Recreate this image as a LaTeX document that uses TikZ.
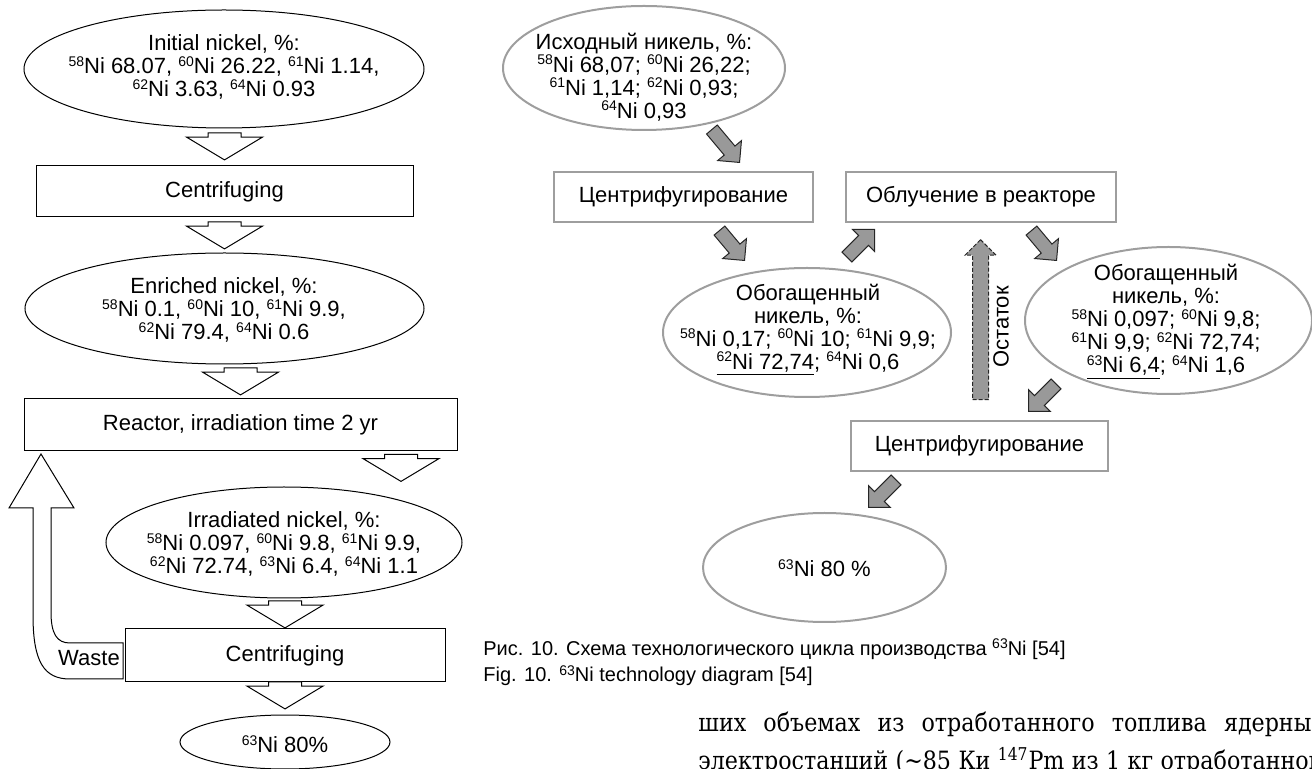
\documentclass[tikz,border=0pt]{standalone}
\usepackage{fontspec}
\setmainfont{Liberation Sans}
\newfontfamily\bodyfont[FakeStretch=0.88]{DejaVu Serif}
\usetikzlibrary{shapes.geometric,shapes.arrows}
\newcommand{\isoNi}[1]{\raisebox{0.65ex}{\fontsize{7}{7}\selectfont #1}Ni}
\begin{document}
\begin{tikzpicture}[x=0.5pt, y=-0.5pt,
    every node/.style={font=\fontsize{11}{11.5}\selectfont, inner sep=0pt, align=center},
    ovalL/.style={ellipse, draw, line width=0.5pt},
    boxL/.style={rectangle, draw, line width=0.5pt},
    hollow/.style={single arrow, draw, line width=0.5pt, fill=white, rotate=-90, anchor=tip,
        minimum height=13.5pt, inner xsep=0pt, inner ysep=8pt,
        single arrow head extend=10.75pt, single arrow tip angle=118},
    ovalR/.style={ellipse, draw=black!38, line width=1pt},
    boxR/.style={rectangle, draw=black!38, line width=1pt},
    grayarr/.style={single arrow, draw=black!85, fill=black!40, line width=0.5pt, anchor=tip,
        minimum height=19.5pt, inner xsep=0pt, inner ysep=3.25pt,
        single arrow head extend=4.25pt, single arrow tip angle=90},
    captxt/.style={anchor=base west, font=\fontsize{10}{12}\selectfont},
    bodytxt/.style={anchor=base west, font=\bodyfont\fontsize{12.6}{15}\selectfont}]
    % Page frame: 1 unit = 1 px of the scan, y grows downwards
    \useasboundingbox (0,0) rectangle (1312,769);
    \clip (0,0) rectangle (1312,769);

    % ----- Left scheme (English) -----
    \node[ovalL, minimum width=200pt, minimum height=59pt] (ini) at (224,69) {};
    \node (ini-t) at (224,67) {Initial nickel, \%:\\ \isoNi{58} 68.07, \isoNi{60} 26.22, \isoNi{61} 1.14,\\ \isoNi{62} 3.63, \isoNi{64} 0.93};
    \node[boxL, minimum width=188.5pt, minimum height=25.5pt] (cen1) at (224.5,191.5) {Centrifuging};
    \node[ovalL, minimum width=199.5pt, minimum height=55.5pt] (enr) at (224.5,308.5) {};
    \node (enr-t) at (224,310) {Enriched nickel, \%:\\ \isoNi{58} 0.1, \isoNi{60} 10, \isoNi{61} 9.9,\\ \isoNi{62} 79.4, \isoNi{64} 0.6};
    \node[boxL, minimum width=216.5pt, minimum height=26pt] (reac) at (240.5,425) {Reactor, irradiation time 2 yr};
    \node[ovalL, minimum width=178pt, minimum height=55.5pt] (irr) at (284,542.5) {};
    \node (irr-t) at (284,544) {Irradiated nickel, \%:\\ \isoNi{58} 0.097, \isoNi{60} 9.8, \isoNi{61} 9.9,\\ \isoNi{62} 72.74, \isoNi{63} 6.4, \isoNi{64} 1.1};
    \node[boxL, minimum width=160pt, minimum height=26.5pt] (cen2) at (285,655.5) {Centrifuging};
    \node[ovalL, minimum width=105pt, minimum height=27pt] (fin) at (285,742) {};
    \node (fin-t) at (285,744) {\isoNi{63} 80\%};

    % Hollow arrows, tip just above the next block
    \node[hollow] (h1) at ([yshift=2.5pt]cen1.north) {};
    \node[hollow] (h2) at ([yshift=1.5pt]enr.north) {};
    \node[hollow] (h3) at ([yshift=1.5pt]reac.north) {};
    \node[hollow] (h4) at (401,482) {};
    \node[hollow] (h5) at (cen2.north) {};
    \node[hollow] (h6) at ([yshift=2.5pt]fin.north) {};

    % Waste: bent hollow arrow back to the reactor
    \draw[line width=0.5pt, fill=white] (74,508) -- (51,508) -- (51,612)
        .. controls (51,634) and (57,643) .. (70,643) -- (123,643) -- (123,679) -- (70,679)
        .. controls (44,679) and (33,662) .. (33,615) -- (33,508) -- (9,508) -- (41,454) -- cycle;
    \node (waste) at (89,658) {Waste};

    % ----- Right scheme (Russian) -----
    \node[ovalR, minimum width=141pt, minimum height=62pt] (iskh) at (644,68) {};
    \node (iskh-t) at (644,77) {Исходный никель, \%:\\ \isoNi{58} 68,07; \isoNi{60} 26,22;\\ \isoNi{61} 1,14; \isoNi{62} 0,93;\\ \isoNi{64} 0,93};
    \node[boxR, minimum width=129.5pt, minimum height=25pt] (centr1) at (683.5,197) {Центрифугирование};
    \node[boxR, minimum width=135pt, minimum height=25pt] (obl) at (981,197) {Облучение в реакторе};
    \node[ovalR, minimum width=144pt, minimum height=64.5pt] (obog1) at (807,332.5) {};
    \node (obog1-t) at (808,330) {Обогащенный\\ никель, \%:\\ \isoNi{58} 0,17; \isoNi{60} 10; \isoNi{61} 9,9;\\ \underline{\isoNi{62} 72,74}; \isoNi{64} 0,6};
    \node[ovalR, minimum width=143.5pt, minimum height=73.5pt] (obog2) at (1168.5,320.5) {};
    \node (obog2-t) at (1166,322) {Обогащенный\\ никель, \%:\\ \isoNi{58} 0,097; \isoNi{60} 9,8;\\ \isoNi{61} 9,9; \isoNi{62} 72,74;\\ \underline{\isoNi{63} 6,4}; \isoNi{64} 1,6};
    \node[boxR, minimum width=128.5pt, minimum height=25pt] (centr2) at (979.5,446) {Центрифугирование};
    \node[ovalR, minimum width=121.5pt, minimum height=54.5pt] (itog) at (824.5,567.5) {};
    \node (itog-t) at (824.5,568) {\isoNi{63} 80 \%};

    % Grey block arrows (tip given)
    \node[grayarr, rotate=-50, minimum height=21.5pt] (g1) at (740,163) {};
    \node[grayarr, rotate=-50] (g2) at (745,261) {};
    \node[grayarr, rotate=45] (g3) at (875,229) {};
    \node[grayarr, rotate=-50] (g4) at (1057,261) {};
    \node[grayarr, rotate=-135] (g5) at (1028,412) {};
    \node[grayarr, rotate=-135] (g6) at (868,508) {};

    % Residue goes back to the reactor
    \node[grayarr, rotate=90, dash pattern=on 2pt off 1pt, minimum height=80pt,
        inner ysep=3.75pt, single arrow head extend=3.75pt] (ost) at (980.5,239) {};
    \node[rotate=90] (ost-t) at (1001,327) {Остаток};

    % Caption
    \node[captxt] (capRu) at (483,655) {Рис. 10. Схема технологического цикла производства \isoNi{63} [54]};
    \node[captxt] (capEn) at (483,682) {Fig. 10. \isoNi{63} technology diagram [54]};

    % Running text of the page (justified lines, cut by the page edge)
    \node[bodytxt] (body1) at (698,732) {\makebox[306.5pt][s]{ших объемах из отработанного топлива ядерны}};
    \node[bodytxt] (body2) at (698,769) {\makebox[311pt][s]{электростанций (\textasciitilde85 Ки \textsuperscript{147}Pm из 1 кг отработанног}};
\end{tikzpicture}
\end{document}
